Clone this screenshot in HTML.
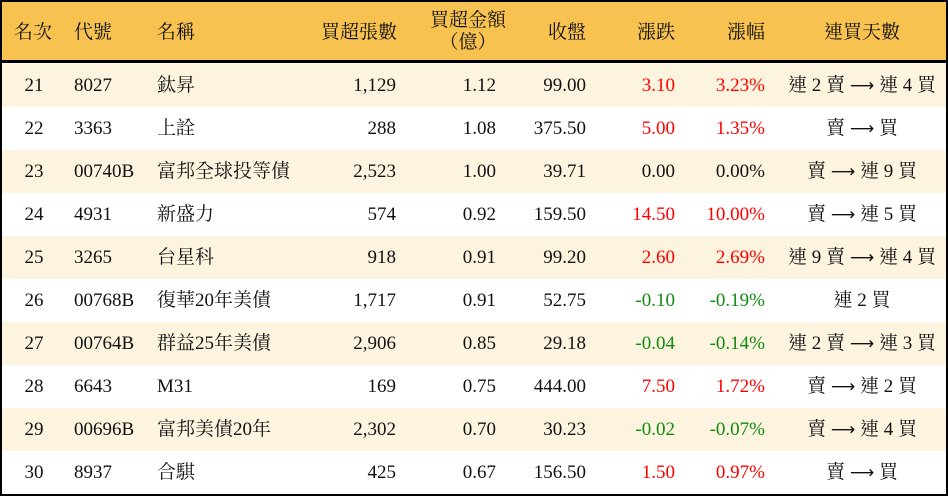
<!DOCTYPE html>
<html><head><meta charset="utf-8"><style>
*{margin:0;padding:0;box-sizing:border-box}
body{width:948px;height:496px;background:#fff;overflow:hidden;font-family:"Liberation Serif","Noto Serif CJK TC","Noto Serif CJK SC",serif;font-size:19px;color:#111}
#t{position:absolute;left:0;top:0;width:948px;height:496px;border:2px solid #000}
.hd{position:absolute;left:0;top:0;width:944px;height:61px;background:#F8C250;border-bottom:3px solid #000}
.r{position:absolute;left:0;width:944px;height:43px}
.c{position:absolute;top:0;line-height:43px;white-space:nowrap}
.hd .c{line-height:61px}
.R{color:#f00}.G{color:#118a11}
.a{font-family:"DejaVu Sans",sans-serif;font-size:17px}
</style></head><body><div id="t">
<div class="hd">
<div class="c" style="left:12px">名次</div>
<div class="c" style="left:72px">代號</div>
<div class="c" style="left:155px">名稱</div>
<div class="c" style="right:549px">買超張數</div>
<div class="c" style="left:416px;width:100px;text-align:center;line-height:22px;top:8px">買超金額<br>（億）</div>
<div class="c" style="right:360px">收盤</div>
<div class="c" style="right:271px">漲跌</div>
<div class="c" style="right:181px">漲幅</div>
<div class="c" style="left:800px;width:120px;text-align:center">連買天數</div>
</div>
<div id="rows"></div>
</div>
<script>
var d=[["21","8027","鈦昇","1,129","1.12","99.00","3.10","3.23%","連 2 賣 → 連 4 買","R"],
["22","3363","上詮","288","1.08","375.50","5.00","1.35%","賣 → 買","R"],
["23","00740B","富邦全球投等債","2,523","1.00","39.71","0.00","0.00%","賣 → 連 9 買",""],
["24","4931","新盛力","574","0.92","159.50","14.50","10.00%","賣 → 連 5 買","R"],
["25","3265","台星科","918","0.91","99.20","2.60","2.69%","連 9 賣 → 連 4 買","R"],
["26","00768B","復華20年美債","1,717","0.91","52.75","-0.10","-0.19%","連 2 買","G"],
["27","00764B","群益25年美債","2,906","0.85","29.18","-0.04","-0.14%","連 2 賣 → 連 3 買","G"],
["28","6643","M31","169","0.75","444.00","7.50","1.72%","賣 → 連 2 買","R"],
["29","00696B","富邦美債20年","2,302","0.70","30.23","-0.02","-0.07%","賣 → 連 4 買","G"],
["30","8937","合騏","425","0.67","156.50","1.50","0.97%","賣 → 買","R"]];
var h="";d.forEach(function(x,i){
var s=x[8].replace("→",'<span class="a">⟶</span>');
h+='<div class="r" style="top:'+(62+43*i)+'px;background:'+(i%2?'#fff':'#FDF4DF')+'">'+
'<div class="c" style="left:0;width:64px;text-align:center">'+x[0]+'</div>'+
'<div class="c" style="left:72px">'+x[1]+'</div>'+
'<div class="c" style="left:155px">'+x[2]+'</div>'+
'<div class="c" style="right:550px">'+x[3]+'</div>'+
'<div class="c" style="right:450px">'+x[4]+'</div>'+
'<div class="c" style="right:360px">'+x[5]+'</div>'+
'<div class="c '+x[9]+'" style="right:271px">'+x[6]+'</div>'+
'<div class="c '+x[9]+'" style="right:181px">'+x[7]+'</div>'+
'<div class="c" style="left:770px;width:180px;text-align:center">'+s+'</div></div>';});
document.getElementById("rows").innerHTML=h;
</script>
</body></html>
